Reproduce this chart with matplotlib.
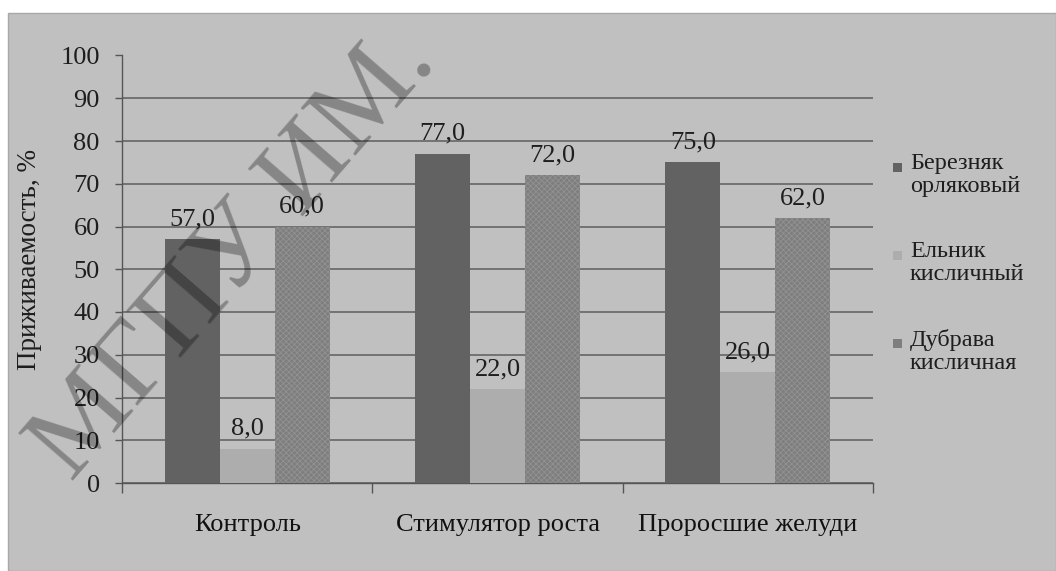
import numpy as np
import matplotlib
matplotlib.use("Agg")
import matplotlib.pyplot as plt
from matplotlib.patches import Rectangle

# data
categories = ["Контроль", "Стимулятор роста", "Проросшие желуди"]
series_names = ["Березняк\nорляковый", "Ельник\nкисличный", "Дубрава\nкисличная"]
berez = [57.0, 77.0, 75.0]
elnik = [8.0, 22.0, 26.0]
dubrava = [60.0, 72.0, 62.0]
y_ticks = list(range(0, 101, 10))

plt.rcParams['font.family'] = ['Liberation Serif', 'DejaVu Serif']
plt.rcParams['hatch.linewidth'] = 0.6

W, H = 1056, 571
fig = plt.figure(figsize=(W / 100, H / 100), dpi=100, facecolor='white')

# grey chart frame, behind the axes
fig.patches.append(Rectangle((8 / W, 0), 1048 / W, 558 / H, transform=fig.transFigure,
                             facecolor='#c0c0c0', edgecolor='#a8a8a8', linewidth=1.0, zorder=-5))

ax = fig.add_axes([122 / W, 1 - 483 / H, (873 - 122) / W, (483 - 55.5) / H])
ax.set_facecolor('none')

x = np.arange(len(categories))
bw = 0.22
colors = ['#626262', '#adadad', '#7e7e7e']
b1 = ax.bar(x - bw, berez, bw, color=colors[0], linewidth=0, zorder=3)
b2 = ax.bar(x, elnik, bw, color=colors[1], linewidth=0, zorder=3)
b3 = ax.bar(x + bw, dubrava, bw, color=colors[2], edgecolor='#929292', hatch='xxxxxx',
            linewidth=0, zorder=3)

for bars in (b1, b2, b3):
    for rect in bars:
        h = rect.get_height()
        ax.annotate(f"{h:.1f}".replace('.', ','), (rect.get_x() + rect.get_width() / 2, h),
                    xytext=(0, 10), textcoords='offset points', ha='center', va='baseline',
                    fontsize=19, color='#1e1e1e', zorder=5)

ax.set_ylim(0, 100)
ax.set_xlim(-0.5, len(categories) - 0.5)
ax.set_yticks(y_ticks)
ax.tick_params(axis='y', labelsize=19, length=5, width=1, color='#555555', pad=11,
               labelcolor='#1e1e1e')
ax.grid(axis='y', color='#5e5e5e', linewidth=1.1, zorder=1)
ax.set_axisbelow(True)

ax.set_xticks(np.arange(-0.5, len(categories)), labels=[])
ax.set_xticks(x, labels=categories, minor=True)
ax.tick_params(axis='x', which='major', length=7, width=1, color='#555555')
ax.tick_params(axis='x', which='minor', length=0, labelsize=19, pad=22, labelcolor='#111111')

for s in ('top', 'right'):
    ax.spines[s].set_visible(False)
for s in ('left', 'bottom'):
    ax.spines[s].set_color('#555555')
    ax.spines[s].set_linewidth(1.0)

fig.text(30 / W, 1 - 260 / H, "Приживаемость, %", rotation=90, ha='center', va='center',
         fontsize=19.5, color='#1e1e1e')

# legend drawn by hand so the marker sits at the first line
leg_y = [167, 255, 343]
for name, c, yy in zip(series_names, colors, leg_y):
    fig.patches.append(Rectangle((893 / W, 1 - (yy + 5) / H), 9 / W, 9 / H,
                                 transform=fig.transFigure, facecolor=c, linewidth=0, zorder=4))
    fig.text(910 / W, 1 - (yy - 14) / H, name, ha='left', va='top', fontsize=17.5,
             linespacing=1.15, color='#1e1e1e')

# watermark
fig.text(234 / W, 1 - 255 / H, "МГПУ ИМ.", rotation=49, ha='center', va='center',
         fontsize=80, color='black', alpha=0.3, zorder=10)

fig.savefig("out.png", dpi=100, facecolor='white')
